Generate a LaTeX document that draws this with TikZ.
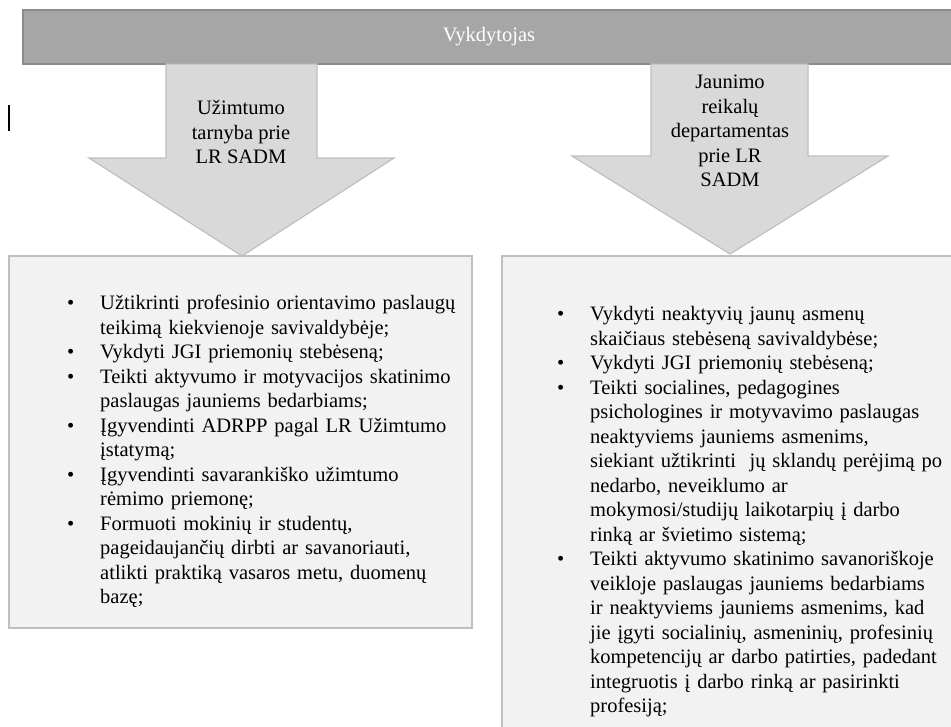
\documentclass[tikz,border=0pt]{standalone}
\usepackage{fontspec}
\setmainfont{Liberation Serif}
\usepackage{enumitem}
\setlist[itemize]{label=\hskip3pt\textbullet,leftmargin=36pt,labelwidth=36pt,labelsep=0pt,align=left,
  itemsep=0pt,topsep=0pt,parsep=0pt,partopsep=0pt}

\definecolor{barfill}{HTML}{A6A6A6}
\definecolor{barline}{HTML}{8C8C8C}
\definecolor{arrowfill}{HTML}{D9D9D9}
\definecolor{arrowline}{HTML}{BFBFBF}
\definecolor{boxfill}{HTML}{F2F2F2}
\definecolor{boxline}{HTML}{BFBFBF}

\newcommand{\bodyfont}{\fontsize{20.5}{24.5}\selectfont}

\begin{document}
\begin{tikzpicture}[x=1pt,y=-1pt,
  bar/.style={fill=barfill,draw=barline,line width=1.2pt},
  downarrow/.style={fill=arrowfill,draw=arrowline,line width=1.2pt},
  listbox/.style={fill=boxfill,draw=boxline,line width=1.2pt},
  arrowtext/.style={align=center,font=\bodyfont,inner sep=0pt},
  listtext/.style={anchor=north west,text width=#1,align=left,inner sep=0pt,font=\bodyfont}]
\useasboundingbox (0,0) rectangle (951,726);
\clip (0,0) rectangle (951,726);

% top bar
\draw[bar] (23,10) rectangle (953,64);
\node[text=white,font=\bodyfont] (vykd) at (489,37) {Vykdytojas};

% the two lists
\draw[listbox] (9,256) rectangle (472,628);
\draw[listbox] (502,256) rectangle (955,730);

% arrows
\draw[downarrow] (166,64) -- (317,64) -- (317,158) -- (394,158) -- (242,256)
      -- (89,158) -- (166,158) -- cycle;
\node[arrowtext] (uzt) at (241,132) {Užimtumo\\tarnyba prie\\LR SADM};

\draw[downarrow] (651,64) -- (808,64) -- (808,156) -- (888,156) -- (730,254)
      -- (572,156) -- (651,156) -- cycle;
\node[arrowtext] (jrd) at (730,131) {Jaunimo\\reikalų\\departamentas\\prie LR\\SADM};

\node[listtext=400pt] (uztlist) at (64,285) {%
\begin{itemize}
\item Užtikrinti profesinio orientavimo paslaugų\\teikimą kiekvienoje savivaldybėje;
\item Vykdyti JGI priemonių stebėseną;
\item Teikti aktyvumo ir motyvacijos skatinimo\\paslaugas jauniems bedarbiams;
\item Įgyvendinti ADRPP pagal LR Užimtumo\\įstatymą;
\item Įgyvendinti savarankiško užimtumo\\rėmimo priemonę;
\item Formuoti mokinių ir studentų,\\pageidaujančių dirbti ar savanoriauti,\\atlikti praktiką vasaros metu, duomenų\\bazę;
\end{itemize}};

\node[listtext=395pt] (jrdlist) at (554,296) {%
\begin{itemize}
\item Vykdyti neaktyvių jaunų asmenų\\skaičiaus stebėseną savivaldybėse;
\item Vykdyti JGI priemonių stebėseną;
\item Teikti socialines, pedagogines\\psichologines ir motyvavimo paslaugas\\neaktyviems jauniems asmenims,\\siekiant užtikrinti\ \ jų sklandų perėjimą po\\nedarbo, neveiklumo ar\\mokymosi/studijų laikotarpių į darbo\\rinką ar švietimo sistemą;
\item Teikti aktyvumo skatinimo savanoriškoje\\veikloje paslaugas jauniems bedarbiams\\ir neaktyviems jauniems asmenims, kad\\jie įgyti socialinių, asmeninių, profesinių\\kompetencijų ar darbo patirties, padedant\\integruotis į darbo rinką ar pasirinkti\\profesiją;
\end{itemize}};

% stray text cursor
\draw[line width=1.3pt] (9,105) -- (9,131);
\end{tikzpicture}
\end{document}
